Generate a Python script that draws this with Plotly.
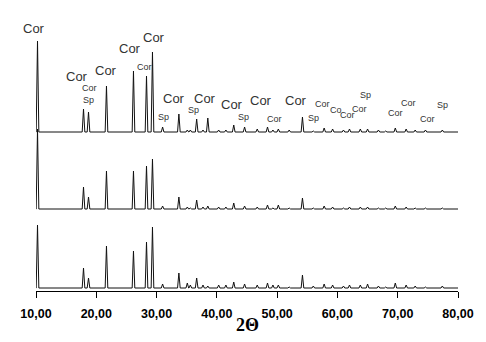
import plotly.graph_objects as go

# ---- data ----
two_theta_peaks = [10.25, 17.88, 18.71, 21.69, 26.17, 28.33, 29.32, 31.0, 33.7, 35.1,
                   35.6, 36.65, 37.7, 38.5, 40.3, 41.5, 42.8, 44.6, 46.7, 48.4,
                   49.3, 50.2, 52.0, 54.2, 56.0, 57.8, 59.2, 61.0, 62.0, 63.8,
                   65.0, 66.8, 68.0, 69.6, 71.4, 72.9, 74.6, 77.4]

intensity_top = [91, 23, 20, 46, 61, 56, 80, 5, 18, 2,
                 2, 13, 2, 14, 2, 2, 7, 5, 3, 5,
                 2, 3, 2, 15, 1, 4, 3, 2, 3, 3,
                 3, 2, 1, 4, 3, 2, 2, 2]

intensity_mid = [80, 22, 12, 38, 38, 43, 50, 3, 12, 2,
                 1, 9, 2, 3, 2, 2, 6, 3, 2, 4,
                 1, 4, 1, 11, 1, 3, 2, 1, 2, 2,
                 2, 1, 1, 3, 2, 1, 1, 1]

intensity_bottom = [63, 20, 10, 42, 37, 46, 61, 4, 15, 5,
                    3, 10, 3, 2, 3, 3, 6, 4, 3, 5,
                    3, 3, 1, 13, 2, 4, 3, 2, 3, 3,
                    4, 2, 1, 5, 3, 2, 1, 2]

pattern_offsets = [159, 82, 3]

tick_vals = [10, 20, 30, 40, 50, 60, 70, 80]
tick_text = ["10,00", "20,00", "30,00", "40,00", "50,00", "60,00", "70,00", "80,00"]

label_text = ["Cor", "Cor", "Cor", "Sp", "Cor", "Cor", "Cor", "Cor", "Sp", "Cor",
              "Sp", "Cor", "Cor", "Sp", "Cor", "Cor", "Cor", "Sp", "Cor", "Co",
              "Cor", "Cor", "Sp", "Cor", "Cor", "Sp", "Cor"]
label_x = [10.0, 16.88, 18.87, 18.71, 21.69, 25.67, 28.0, 29.49, 31.15, 32.81,
           36.12, 38.11, 42.43, 44.42, 47.24, 49.56, 53.21, 56.03, 57.52, 59.68,
           61.75, 63.6, 64.65, 69.59, 71.75, 77.39, 74.9]
label_y = [263, 215, 203, 191, 221, 243, 224, 254, 174, 193,
           181, 193, 187, 174, 191, 172, 191, 173, 187, 181,
           176, 182, 196, 178, 188, 186, 172]
label_big = [True, True, False, False, True, True, False, True, False, True,
             False, True, True, False, True, False, True, False, False, False,
             False, False, False, False, False, False, False]


def profile(peaks, heights, offset, half=0.22):
    xs = [10.0]
    ys = [offset]
    for p, h in sorted(zip(peaks, heights)):
        xs += [p - half, p, p + half]
        ys += [offset, offset + h, offset]
    xs.append(80.0)
    ys.append(offset)
    return xs, ys


fig = go.Figure()
for inten, off in zip([intensity_top, intensity_mid, intensity_bottom], pattern_offsets):
    xs, ys = profile(two_theta_peaks, inten, off)
    fig.add_trace(go.Scatter(x=xs, y=ys, mode="lines",
                             line=dict(color="#111111", width=1),
                             showlegend=False, hoverinfo="skip"))

for t, x, y, big in zip(label_text, label_x, label_y, label_big):
    fig.add_annotation(x=x, y=y, text=t, showarrow=False,
                       xshift=-2.5 if x == 10.0 else 0,
                       font=dict(family="Liberation Sans, Arial", size=13 if big else 9,
                                 color="#333333"))

fig.add_annotation(x=0.5, y=-0.125, xref="paper", yref="paper", text="<b>2Θ</b>",
                   showarrow=False, yanchor="middle",
                   font=dict(family="Liberation Serif, Times New Roman", size=18, color="black"))

fig.update_layout(
    width=486, height=342,
    margin=dict(l=36, r=28, t=20, b=51),
    paper_bgcolor="white", plot_bgcolor="white",
    xaxis=dict(range=[10, 80], tickvals=tick_vals, ticktext=tick_text,
               showline=True, linecolor="black", linewidth=1,
               ticks="outside", ticklen=6, tickcolor="black", tickwidth=1,
               ticklabelstandoff=5,
               showgrid=False, zeroline=False,
               tickfont=dict(family="Liberation Sans, Arial", size=12.5, color="black",
                             weight="bold")),
    yaxis=dict(range=[0, 271], visible=False, showgrid=False, zeroline=False),
)

fig.write_html("out.html", config={"displayModeBar": False},
               post_script="document.body.style.margin='0';document.body.style.padding='0';")
